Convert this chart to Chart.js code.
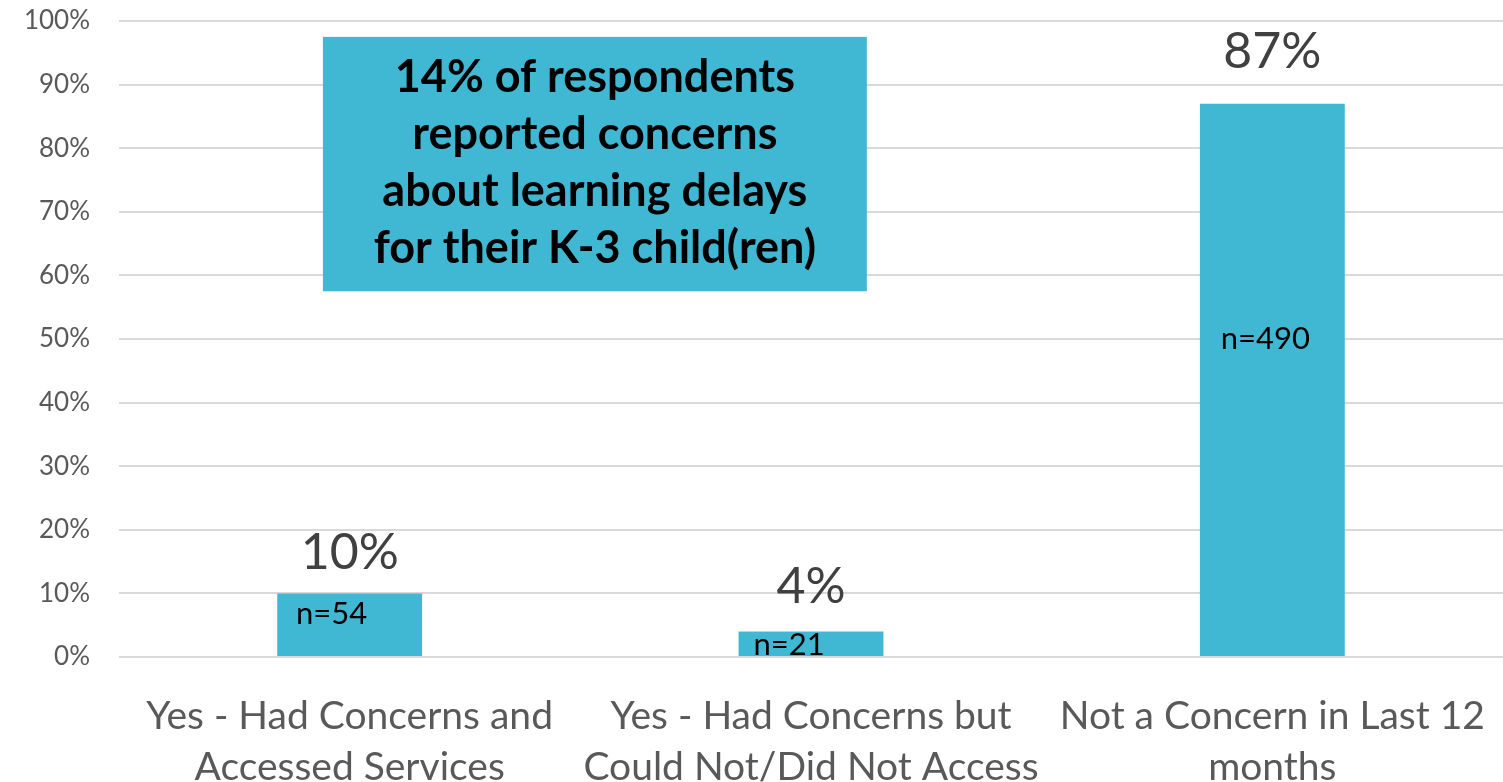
<!DOCTYPE html>
<html>
<head>
<meta charset="utf-8">
<script src="https://cdn.jsdelivr.net/npm/chart.js@4.4.1/dist/chart.umd.min.js"></script>
<style>
  html, body { margin: 0; padding: 0; background: #ffffff; }
  #wrap { width: 1503px; height: 782px; position: relative; }
</style>
</head>
<body>
<div id="wrap"><canvas id="c" width="1503" height="782"></canvas></div>
<script>
// ---- Data ----
const categories = [
  ["Yes - Had Concerns and", "Accessed Services"],
  ["Yes - Had Concerns but", "Could Not/Did Not Access"],
  ["Not a Concern in Last 12", "months"]
];
const percentValues = [10, 4, 87];
const sampleSizes = [54, 21, 490];
const calloutLines = [
  "14% of respondents",
  "reported concerns",
  "about learning delays",
  "for their K-3 child(ren)"
];

const BAR_COLOR = "#41B8D3";
const FONT = "Lato, 'Open Sans', sans-serif";

// Draw value labels, n= labels and callout box
const labelPlugin = {
  id: "labels",
  afterDatasetsDraw(chart, args, opts) {
    const ctx = chart.ctx;
    const meta = chart.getDatasetMeta(0);
    const xs = chart.scales.x, ys = chart.scales.y;

    // callout box (placed in data coordinates)
    const bx1 = xs.getPixelForValue(opts.box.x0), bx2 = xs.getPixelForValue(opts.box.x1);
    const by1 = ys.getPixelForValue(opts.box.y1), by2 = ys.getPixelForValue(opts.box.y0);
    ctx.save();
    ctx.fillStyle = BAR_COLOR;
    ctx.fillRect(bx1, by1, bx2 - bx1, by2 - by1);
    ctx.fillStyle = "#000000";
    ctx.font = "bold 45px " + FONT;
    ctx.textAlign = "center";
    ctx.textBaseline = "middle";
    const lh = 57;
    const cy = (by1 + by2) / 2 - 1;
    const cx = (bx1 + bx2) / 2;
    calloutLines.forEach((t, i) => {
      ctx.fillText(t, cx, cy + (i - (calloutLines.length - 1) / 2) * lh);
    });
    ctx.restore();

    meta.data.forEach((bar, i) => {
      ctx.save();
      ctx.textAlign = "center";
      ctx.textBaseline = "middle";
      // percentage above bar
      ctx.fillStyle = "#404040";
      ctx.font = "50px " + FONT;
      ctx.fillText(percentValues[i] + "%", bar.x, bar.y - opts.valueOffset[i]);
      // n= label inside bar
      ctx.fillStyle = "#000000";
      ctx.font = "31px " + FONT;
      ctx.fillText("n=" + sampleSizes[i], bar.x + opts.nDx[i], ys.getPixelForValue(opts.nY[i]));
      ctx.restore();
    });
  }
};

new Chart(document.getElementById("c"), {
  type: "bar",
  data: {
    labels: categories,
    datasets: [{
      data: percentValues,
      backgroundColor: BAR_COLOR,
      borderWidth: 0,
      barPercentage: 0.314,
      categoryPercentage: 1.0
    }]
  },
  options: {
    responsive: false,
    animation: false,
    devicePixelRatio: 1,
    layout: { padding: { top: 21, right: 0, left: 0, bottom: 0 } },
    plugins: {
      legend: { display: false },
      tooltip: { enabled: false },
      labels: {
        valueOffset: [41, 45, 52],
        nDx: [-18, -22, -7],
        nY: [6.8, 1.9, 50],
        box: { x0: -0.058, x1: 1.121, y0: 57.5, y1: 97.5 }
      }
    },
    scales: {
      y: {
        min: 0, max: 100,
        afterFit(axis) { axis.width = 119; axis.paddingTop = 12; axis.paddingBottom = 12; },
        ticks: {
          stepSize: 10,
          padding: 29,
          color: "#595959",
          font: { family: FONT, size: 26 },
          callback: v => v + "%"
        },
        grid: { color: "#d9d9d9", lineWidth: 2, drawTicks: false },
        border: { display: false }
      },
      x: {
        afterFit(axis) { axis.height = 125; axis.paddingLeft = 0; axis.paddingRight = 0; },
        ticks: {
          padding: 26,
          color: "#595959",
          maxRotation: 0,
          autoSkip: false,
          font: { family: FONT, size: 39, lineHeight: 1.3 }
        },
        grid: { display: false },
        border: { display: false }
      }
    }
  },
  plugins: [labelPlugin]
});
</script>
</body>
</html>
